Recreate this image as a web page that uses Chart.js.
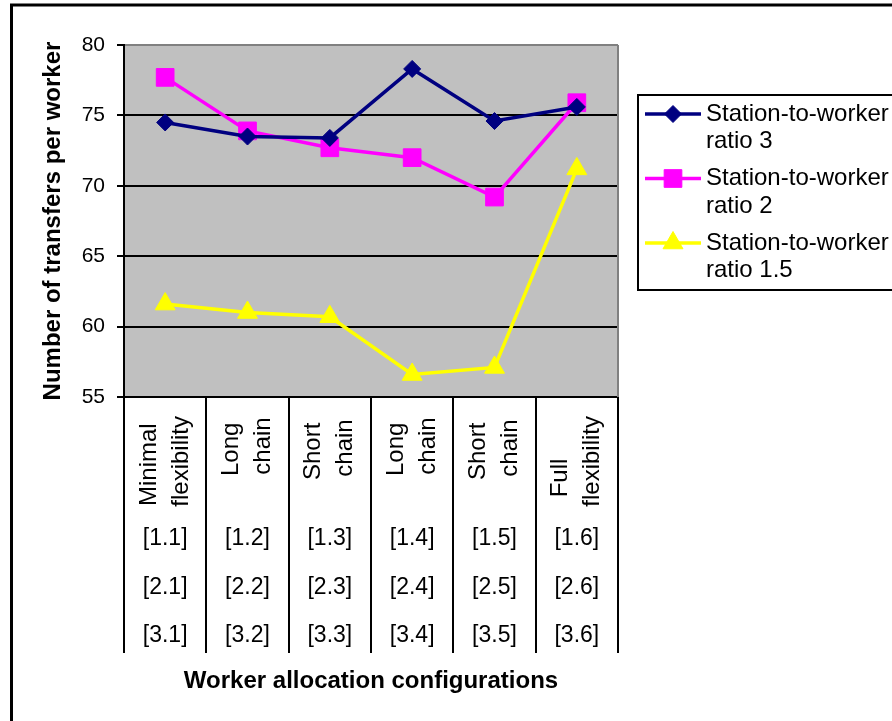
<!DOCTYPE html>
<html>
<head>
<meta charset="utf-8">
<title>Transfers per worker</title>
<script src="https://cdn.jsdelivr.net/npm/chart.js@4.4.1/dist/chart.umd.min.js"></script>
<style>
  html, body { margin: 0; padding: 0; background: #fff; }
  canvas { display: block; }
</style>
</head>
<body>
<canvas id="transfersChart" width="892" height="721"></canvas>
<script>
// category names (wrapped the way the axis shows them) and configuration codes
const categoryNames = [
  ['Minimal ', 'flexibility'],
  ['Long ', 'chain'],
  ['Short ', 'chain'],
  ['Long ', 'chain'],
  ['Short ', 'chain'],
  ['Full     ', 'flexibility'],
];
const configRows = [
  ['[1.1]', '[1.2]', '[1.3]', '[1.4]', '[1.5]', '[1.6]'],
  ['[2.1]', '[2.2]', '[2.3]', '[2.4]', '[2.5]', '[2.6]'],
  ['[3.1]', '[3.2]', '[3.3]', '[3.4]', '[3.5]', '[3.6]'],
];

const seriesNames = [
  ['Station-to-worker', 'ratio 3'],
  ['Station-to-worker', 'ratio 2'],
  ['Station-to-worker', 'ratio 1.5'],
];
const ratio3 = [74.5, 73.5, 73.4, 78.3, 74.6, 75.6];
const ratio2 = [77.7, 73.9, 72.7, 72.0, 69.2, 75.9];
const ratio15 = [61.6, 61.0, 60.7, 56.6, 57.1, 71.2];

const yTicks = [55, 60, 65, 70, 75, 80];
const yTitle = 'Number of transfers per worker';
const xTitle = 'Worker allocation configurations';

const FONT = "'Liberation Sans', Arial, sans-serif";

const seriesStyles = [
  { color: '#000080', pointStyle: 'rectRot', radius: 8.5 },
  { color: '#FF00FF', pointStyle: 'rect', radius: 12.5 },
  { color: '#FFFF00', pointStyle: 'triangle', radius: 11.5 },
];

function makeDataset(idx, values) {
  const s = seriesStyles[idx];
  return {
    label: seriesNames[idx].join(' '),
    data: values,
    borderColor: s.color,
    backgroundColor: s.color,
    borderWidth: 3.5,
    pointStyle: s.pointStyle,
    pointRadius: s.radius,
    pointBorderWidth: 1,
    pointBackgroundColor: s.color,
    pointBorderColor: s.color,
    tension: 0,
    clip: false,
  };
}

// outer frame, grey plot area, category text under the axis and the boxed legend
const chartDecor = {
  id: 'chartDecor',
  beforeDraw(chart) {
    const { ctx, chartArea } = chart;
    ctx.save();
    ctx.fillStyle = '#C0C0C0';
    ctx.fillRect(chartArea.left, chartArea.top, chartArea.right - chartArea.left, chartArea.bottom - chartArea.top);
    ctx.strokeStyle = '#000';
    ctx.lineWidth = 3;
    ctx.strokeRect(11.5, 5, 1000, 1000);
    ctx.restore();
  },
  beforeDatasetsDraw(chart) {
    const { ctx, chartArea } = chart;
    ctx.save();
    ctx.strokeStyle = '#808080';
    ctx.lineWidth = 2;
    ctx.beginPath();
    ctx.moveTo(chartArea.right, chartArea.top);
    ctx.lineTo(chartArea.right, chartArea.bottom);
    ctx.stroke();
    ctx.restore();
  },
  afterDraw(chart) {
    const { ctx, chartArea } = chart;
    const xScale = chart.scales.x;
    ctx.save();
    ctx.fillStyle = '#000';

    // rotated names
    ctx.font = `24px ${FONT}`;
    const topY = chartArea.bottom + 19;
    const lineGap = 32;
    categoryNames.forEach((lines, i) => {
      const x = xScale.getPixelForValue(i);
      const blockW = Math.max(...lines.map((l) => ctx.measureText(l).width));
      lines.forEach((line, j) => {
        ctx.save();
        ctx.translate(x + (j - (lines.length - 1) / 2) * lineGap, topY + blockW / 2);
        ctx.rotate(-Math.PI / 2);
        ctx.textAlign = 'center';
        ctx.textBaseline = 'middle';
        ctx.fillText(line, 0, 0);
        ctx.restore();
      });
    });

    // configuration codes
    ctx.font = `23px ${FONT}`;
    ctx.textAlign = 'center';
    ctx.textBaseline = 'middle';
    configRows.forEach((row, r) => {
      row.forEach((code, i) => {
        ctx.fillText(code, xScale.getPixelForValue(i), 539 + r * 48.5);
      });
    });

    // legend
    const box = { left: 638, top: 95, bottom: 290 };
    ctx.strokeStyle = '#000';
    ctx.lineWidth = 2;
    ctx.strokeRect(box.left, box.top, 400, box.bottom - box.top);
    ctx.font = `24px ${FONT}`;
    ctx.textAlign = 'left';
    chart.data.datasets.forEach((ds, i) => {
      const y = 114 + i * 64.5;
      const s = seriesStyles[i];
      ctx.strokeStyle = s.color;
      ctx.fillStyle = s.color;
      ctx.lineWidth = 3.5;
      ctx.beginPath();
      ctx.moveTo(645, y);
      ctx.lineTo(701, y);
      ctx.stroke();
      ctx.lineWidth = 1;
      Chart.helpers.drawPoint(ctx, { pointStyle: s.pointStyle, radius: s.radius, rotation: 0, borderWidth: 1 }, 673, y);
      ctx.fillStyle = '#000';
      ctx.textBaseline = 'middle';
      seriesNames[i].forEach((line, j) => {
        ctx.fillText(line, 706, y + j * 27.4);
      });
    });
    ctx.restore();
  },
};

const chart = new Chart(document.getElementById('transfersChart'), {
  type: 'line',
  data: {
    labels: categoryNames,
    datasets: [makeDataset(0, ratio3), makeDataset(1, ratio2), makeDataset(2, ratio15)],
  },
  options: {
    responsive: false,
    animation: false,
    layout: { padding: { top: 45, left: 30, right: 274, bottom: 0 } },
    plugins: {
      legend: { display: false },
      tooltip: { enabled: false },
    },
    scales: {
      x: {
        offset: true,
        ticks: { display: false },
        grid: {
          offset: true,
          drawOnChartArea: false,
          tickLength: 256,
          color: '#000',
          lineWidth: 2,
        },
        border: { color: '#000', width: 2 },
        title: {
          display: true,
          text: xTitle,
          color: '#000',
          font: { family: FONT, size: 24, weight: 'bold' },
          padding: { top: 0, bottom: 25 },
        },
        afterFit: (scale) => {
          scale.height = 324;
          scale.paddingLeft = 0;
          scale.paddingRight = 0;
        },
      },
      y: {
        min: yTicks[0],
        max: yTicks[yTicks.length - 1],
        afterBuildTicks: (scale) => {
          scale.ticks = yTicks.map((v) => ({ value: v }));
        },
        ticks: {
          padding: 12,
          color: '#000',
          font: { family: FONT, size: 21 },
        },
        grid: {
          color: (c) => (c.tick && c.tick.value === yTicks[yTicks.length - 1] ? '#808080' : '#000'),
          tickColor: '#000',
          lineWidth: 2,
          tickLength: 7,
        },
        border: { color: '#000', width: 2 },
        title: {
          display: true,
          text: yTitle,
          color: '#000',
          font: { family: FONT, size: 24, weight: 'bold' },
          padding: { top: 9, bottom: 0 },
        },
        afterFit: (scale) => {
          scale.width = 94;
          scale.paddingTop = 0;
          scale.paddingBottom = 0;
        },
      },
    },
  },
  plugins: [chartDecor],
});
</script>
</body>
</html>
